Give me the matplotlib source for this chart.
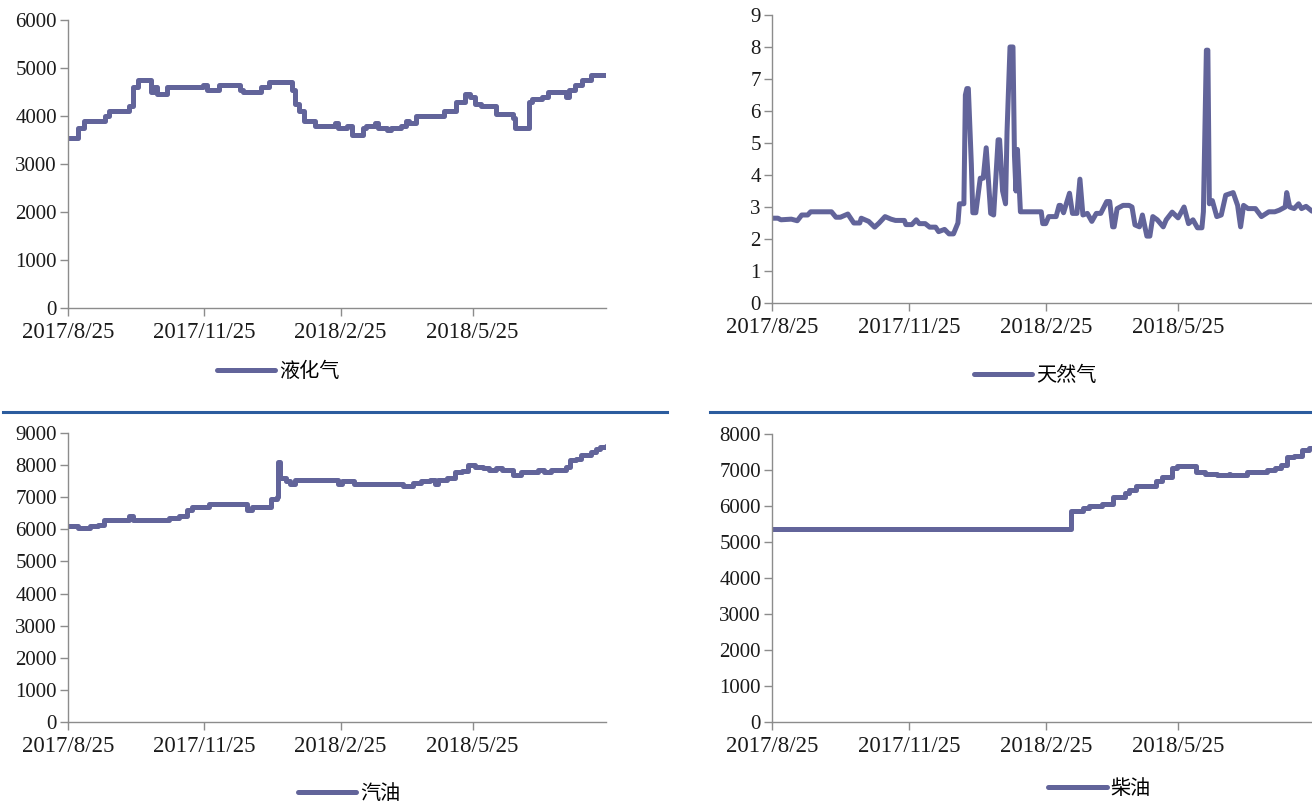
import matplotlib
matplotlib.use("Agg")
import matplotlib.pyplot as plt
from matplotlib.lines import Line2D
import pandas as pd

plt.rcParams['font.family'] = ['Liberation Serif', 'Noto Sans CJK SC', 'DejaVu Sans']

start = pd.Timestamp("2017-08-25")
end_day = 363
tick_dates = ["2017-08-25", "2017-11-25", "2018-02-25", "2018-05-25"]
tick_labels = ["2017/8/25", "2017/11/25", "2018/2/25", "2018/5/25"]

# 液化气: change points (day offset, price)
lpg_days = [0, 7, 11, 25, 28, 41, 44, 47, 56, 58, 60, 67, 91, 94, 102, 116, 118, 130, 136,
            151, 153, 156, 159, 167, 180, 182, 188, 192, 199, 201, 207, 209, 215, 218, 225,
            228, 230, 235, 254, 262, 268, 271, 275, 279, 289, 300, 302, 311, 313, 320, 324,
            336, 338, 342, 347, 353, 363]
lpg_vals = [3550, 3750, 3900, 4000, 4100, 4200, 4600, 4750, 4500, 4600, 4450, 4600, 4650, 4550,
            4650, 4550, 4500, 4600, 4700, 4550, 4250, 4100, 3900, 3800, 3850, 3750, 3800, 3600,
            3750, 3800, 3850, 3750, 3700, 3750, 3800, 3900, 3850, 4000, 4100, 4300, 4450, 4400,
            4250, 4200, 4050, 3950, 3750, 4300, 4350, 4400, 4500, 4400, 4550, 4650, 4750, 4850,
            4850]

# 天然气
gas_days = [0, 4, 6, 13, 17, 20, 24, 26, 40, 43, 46, 51, 55, 59, 60, 65, 69, 72, 76, 80, 83,
            89, 90, 94, 97, 99, 103, 106, 110, 112, 116, 119, 122, 125, 126, 129, 130, 131, 132,
            134, 135, 137, 140, 142, 144, 147, 149, 152, 153, 155, 157, 158, 160, 162, 163, 164,
            165, 167, 181, 182, 184, 186, 191, 193, 194, 196, 200, 202, 205, 207, 209, 212, 215,
            218, 221, 225, 227, 229, 230, 232, 236, 240, 242, 244, 247, 249, 252, 254, 256, 259,
            263, 265, 269, 273, 277, 280, 283, 286, 289, 290, 292, 293, 294, 296, 299, 302, 305,
            310, 313, 315, 317, 320, 325, 329, 334, 338, 341, 345, 346, 348, 351, 354, 356, 359,
            363]
gas_vals = [2.65, 2.65, 2.6, 2.62, 2.57, 2.75, 2.75, 2.85, 2.85, 2.68, 2.68, 2.78, 2.5, 2.5,
            2.65, 2.55, 2.37, 2.5, 2.7, 2.62, 2.58, 2.58, 2.45, 2.45, 2.6, 2.48, 2.48, 2.37, 2.37,
            2.23, 2.3, 2.16, 2.16, 2.5, 3.1, 3.1, 6.5, 6.7, 6.7, 4.35, 2.82, 2.82, 3.9, 3.9, 4.85,
            2.8, 2.75, 5.1, 5.1, 3.5, 3.1, 5.35, 8.0, 8.0, 4.6, 3.5, 4.8, 2.85, 2.85, 2.48, 2.48,
            2.7, 2.7, 3.05, 3.05, 2.82, 3.43, 2.8, 2.8, 3.87, 2.75, 2.8, 2.55, 2.8, 2.8, 3.17,
            3.17, 2.38, 2.38, 2.95, 3.05, 3.05, 3.0, 2.44, 2.38, 2.75, 2.09, 2.09, 2.7, 2.6, 2.38,
            2.6, 2.84, 2.66, 3.0, 2.48, 2.6, 2.35, 2.35, 2.85, 7.9, 7.9, 3.1, 3.2, 2.7, 2.75, 3.37,
            3.45, 3.05, 2.38, 3.05, 2.95, 2.95, 2.7, 2.85, 2.85, 2.9, 3.0, 3.45, 3.0, 2.95, 3.1,
            2.95, 3.02, 2.87]

# 汽油
gasoline_days = [0, 7, 15, 20, 24, 41, 44, 54, 68, 75, 80, 84, 95, 121, 124, 137, 141, 142, 143,
                 147, 150, 153, 182, 185, 193, 226, 233, 238, 244, 248, 250, 256, 261, 266, 270,
                 275, 280, 284, 289, 293, 300, 306, 317, 321, 326, 336, 339, 343, 346, 353, 356,
                 359, 363]
gasoline_vals = [6100, 6050, 6100, 6150, 6300, 6400, 6300, 6280, 6350, 6400, 6600, 6700, 6800,
                 6600, 6700, 6950, 7000, 8100, 7600, 7500, 7400, 7550, 7400, 7500, 7400, 7350,
                 7450, 7500, 7550, 7400, 7550, 7600, 7800, 7820, 8000, 7950, 7900, 7850, 7900,
                 7850, 7700, 7780, 7850, 7800, 7850, 7930, 8150, 8200, 8300, 8400, 8500, 8570,
                 8580]

# 柴油
diesel_days = [0, 201, 209, 213, 222, 229, 237, 240, 245, 258, 262, 269, 272, 285, 291, 299,
               307, 308, 319, 333, 338, 342, 346, 351, 356, 361, 363]
diesel_vals = [5350, 5850, 5950, 6000, 6050, 6250, 6350, 6450, 6550, 6700, 6800, 7050, 7100,
               6950, 6900, 6850, 6900, 6850, 6950, 7000, 7050, 7150, 7350, 7400, 7550, 7600,
               7620]

line_color = "#62649a"
axis_color = "#8c8c8c"


def to_dates(days):
    return start + pd.to_timedelta(days, unit="D")


def draw(ax, days, vals, name, ymax, ystep, steps, legend_xy):
    ax.plot(to_dates(days), vals, color=line_color, lw=3.6, label=name,
            drawstyle="steps-post" if steps else "default",
            solid_joinstyle="round", solid_capstyle="round")
    ax.set_xlim(start, start + pd.Timedelta(days=end_day))
    ax.set_ylim(0, ymax)
    ax.set_yticks(range(0, int(ymax) + 1, ystep))
    ax.set_xticks(pd.to_datetime(tick_dates))
    ax.set_xticklabels(tick_labels)
    for s in ["top", "right"]:
        ax.spines[s].set_visible(False)
    for s in ["left", "bottom"]:
        ax.spines[s].set_color(axis_color)
        ax.spines[s].set_linewidth(1.0)
    ax.tick_params(axis="both", colors=axis_color, labelcolor="#1a1a1a",
                   length=6, width=1.0, direction="out")
    ax.tick_params(axis="y", pad=2, labelsize=15)
    ax.tick_params(axis="x", pad=4, labelsize=16.5)
    ax.legend(loc="center", bbox_to_anchor=legend_xy, bbox_transform=fig.transFigure,
              frameon=False, handlelength=2.9, handletextpad=0.2,
              prop={"family": ["Noto Sans CJK SC"], "size": 14.5})


fig = plt.figure(figsize=(13.12, 8.05), dpi=100)

ax1 = fig.add_axes([0.0518, 0.6174, 0.410, 0.3578])
ax2 = fig.add_axes([0.5884, 0.6236, 0.4116, 0.3578])
ax3 = fig.add_axes([0.0518, 0.1031, 0.410, 0.359])
ax4 = fig.add_axes([0.5884, 0.1031, 0.4116, 0.3578])

draw(ax1, lpg_days, lpg_vals, "液化气", 6000, 1000, True, (0.212, 0.538))
draw(ax2, gas_days, gas_vals, "天然气", 9, 1, False, (0.789, 0.533))
draw(ax3, gasoline_days, gasoline_vals, "汽油", 9000, 1000, True, (0.266, 0.014))
draw(ax4, diesel_days, diesel_vals, "柴油", 8000, 1000, True, (0.838, 0.020))

# blue separator rules between the rows
sep_y = 1 - 412 / 805
fig.add_artist(Line2D([3 / 1312, 667 / 1312], [sep_y, sep_y], color="#2b5c9e", lw=2.2,
                      transform=fig.transFigure))
fig.add_artist(Line2D([710 / 1312, 1.0], [sep_y, sep_y], color="#2b5c9e", lw=2.2,
                      transform=fig.transFigure))

fig.savefig("out.png", dpi=100)
